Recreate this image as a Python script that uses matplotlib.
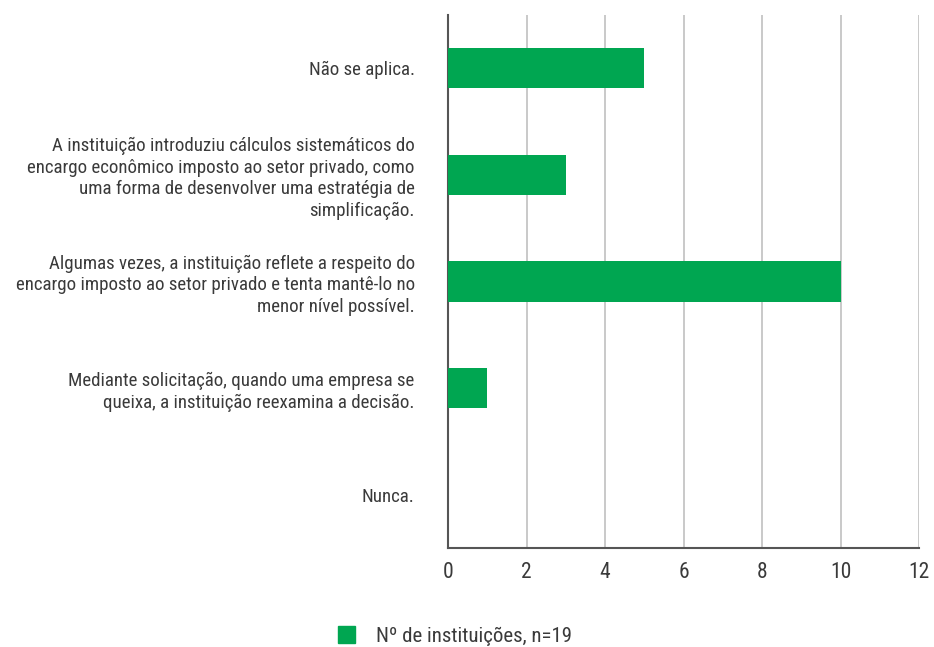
import matplotlib
matplotlib.use("Agg")
import matplotlib.pyplot as plt
from matplotlib.patches import Patch

plt.rcParams['font.family'] = ['Roboto Condensed', 'DejaVu Sans']

categorias = [
    "Não se aplica.",
    "A instituição introduziu cálculos sistemáticos do\nencargo econômico imposto ao setor privado, como\numa forma de desenvolver uma estratégia de\nsimplificação.",
    "Algumas vezes, a instituição reflete a respeito do\nencargo imposto ao setor privado e tenta mantê-lo no\nmenor nível possível.",
    "Mediante solicitação, quando uma empresa se\nqueixa, a instituição reexamina a decisão.",
    "Nunca.",
]
valores = [5, 3, 10, 1, 0]
serie = "Nº de instituições, n=19"
verde = "#00A651"
cinza_texto = "#3a3a3a"

fig = plt.figure(figsize=(9.34, 6.47), dpi=100)
ax = fig.add_axes([0.4797, 0.153, 0.984 - 0.4797, 0.977 - 0.153])

ax.barh(range(len(categorias)), valores, height=0.38, color=verde, linewidth=0, zorder=3)
ax.set_yticks(range(len(categorias)))
ax.set_yticklabels(categorias, fontsize=13.6, color=cinza_texto, linespacing=1.25)
ax.set_ylim(4.5, -0.5)
ax.set_xlim(0, 12)
ax.set_xticks(range(0, 13, 2))
ax.tick_params(axis="x", length=0, pad=10, labelsize=15.5, labelcolor=cinza_texto)
ax.tick_params(axis="y", length=0, pad=24)
ax.grid(axis="x", color="#c0c0c0", linewidth=1.2, zorder=0)
for s in ["top", "right"]:
    ax.spines[s].set_visible(False)
for s in ["left", "bottom"]:
    ax.spines[s].set_color("#555555")
    ax.spines[s].set_linewidth(1.5)

fig.legend(handles=[Patch(color=verde, label=serie)], loc="center", bbox_to_anchor=(0.487, 0.017),
           frameon=False, fontsize=15, handlelength=0.85, handleheight=0.85, handletextpad=1.0,
           labelcolor=cinza_texto)

fig.savefig("out.png", dpi=100)
